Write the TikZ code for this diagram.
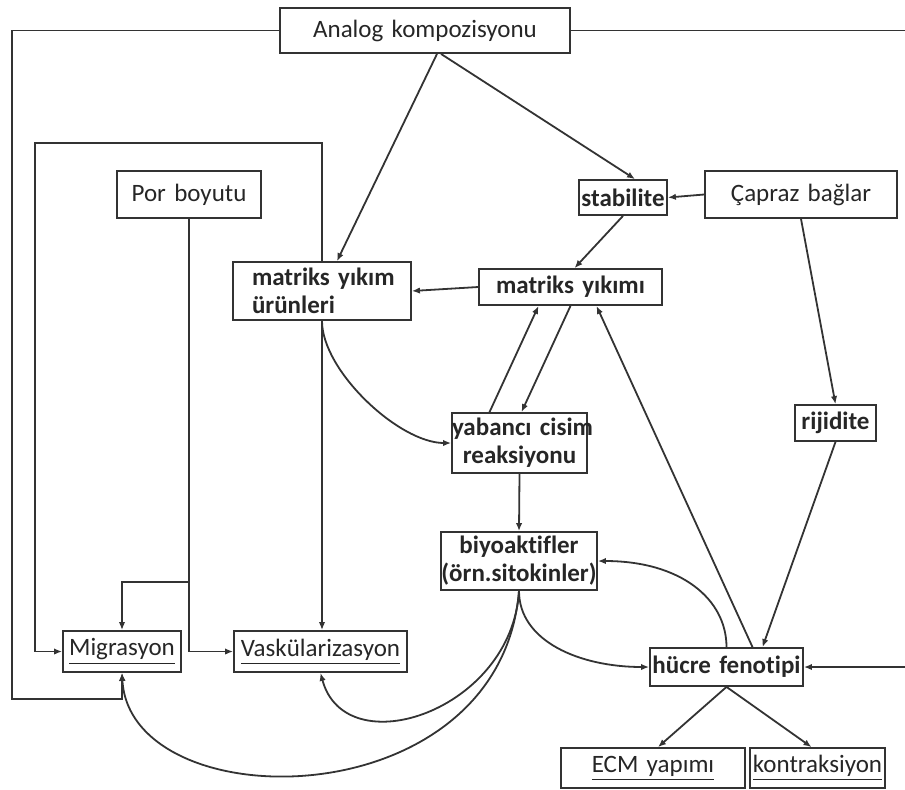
\documentclass[tikz,border=0pt]{standalone}
\usepackage{fontspec}
\setmainfont{Carlito}[Ligatures=CommonOff]
\usetikzlibrary{arrows.meta}
\tikzset{
  box/.style={draw, inner xsep=0pt, inner ysep=0pt, align=center, font=\fontsize{12.5}{14}\selectfont},
  boldbox/.style={box, font=\fontsize{12.5}{14}\selectfont\bfseries},
  link/.style={-{Latex[length=4pt,width=3.2pt]}},
}
\begin{document}
\begin{tikzpicture}[x=0.5pt, y=-0.5pt, line width=0.9pt, draw=black!80, text=black!85]
    \useasboundingbox (0,0) rectangle (905,789);

    \node[box, text width=145pt, minimum height=22.5pt] (ana) at (425,30.5) {\mbox{Analog kompozisyonu}};
    \node[box, text width=72pt, minimum height=23.5pt] (por) at (189,194.5) {\mbox{Por boyutu}};
    \node[boldbox, align=left, text width=70pt, inner xsep=9.5pt, minimum height=29pt] (myu) at (322,291) {\mbox{matriks yıkım}\\\mbox{ürünleri}};
    \node[boldbox, text width=44pt, minimum height=17.5pt] (stab) at (623,197.5) {\mbox{stabilite}};
    \node[box, text width=96pt, minimum height=23.5pt] (cap) at (801,194.5) {\mbox{Çapraz bağlar}};
    \node[boldbox, text width=91.5pt, minimum height=18pt] (my) at (570.5,287) {\mbox{matriks yıkımı}};
    \node[boldbox, text width=67.5pt, minimum height=30pt] (ycr) at (519.5,443) {\mbox{yabancı cisim}\\\mbox{reaksiyonu}};
    \node[boldbox, text width=40.5pt, minimum height=18pt] (rij) at (835.5,423) {\mbox{rijidite}};
    \node[boldbox, text width=78pt, minimum height=29pt] (bio) at (519,561) {\mbox{biyoaktifler}\\\mbox{(örn.sitokinler)}};
    \node[boldbox, text width=76.5pt, minimum height=19pt] (hf) at (726.5,667) {\mbox{hücre fenotipi}};
    \node[box, text width=59pt, minimum height=20.5pt] (mig) at (122,651.5) {\underline{Migrasyon}};
    \node[box, text width=86.5pt, minimum height=20.5pt] (vas) at (320.5,651.5) {\underline{Vaskülarizasyon}};
    \node[box, text width=92pt, minimum height=20pt] (ecm) at (653,768) {\underline{ECM yapımı}};
    \node[box, text width=67.5pt, minimum height=20pt] (kon) at (817.5,768) {\underline{kontraksiyon}};

    % frames round the picture
    \coordinate (leftcorner) at (12,699);
    \coordinate (rightcorner) at (915,667);
    \coordinate (innercorner) at (35,143);
    \coordinate (porjoint) at (189,582);
    \draw[link] (ana.west) -| (leftcorner) -| (mig.south);
    \draw[link] (ana.east) -| (rightcorner) -- (hf.east);
    \draw[link] (myu.north) |- (innercorner) |- (mig.west);
    \draw (por.south) -- (porjoint);
    \draw[link] (porjoint) -| (mig.north);
    \draw[link] (porjoint) |- (vas.west);
    \draw[link] (myu.south) -- (myu.south |- vas.north);

    \draw[link] ([xshift=6pt]ana.south) -- ([xshift=7.5pt]myu.north);
    \draw[link] ([xshift=8pt]ana.south) -- ([xshift=6pt]stab.north);
    \draw[link] (cap.west) -- (stab.east);
    \draw[link] (stab.south) -- ([xshift=2pt]my.north);
    \draw[link] (my.west) -- (myu.east);
    \draw[link] ([xshift=-15pt]ycr.north) -- ([xshift=-16pt]my.south);
    \draw[link] (my.south) -- ([xshift=1pt]ycr.north);
    \draw[link] ([xshift=13pt]hf.north) -- ([xshift=13pt]my.south);
    \draw[link] (cap.south) -- (rij.north);
    \draw[link] (rij.south) -- ([xshift=18pt]hf.north);
    \draw[link] (ycr.south) -- (bio.north);
    \draw[link] (hf.south) -- ([xshift=2.5pt]ecm.north);
    \draw[link] (hf.south) -- ([xshift=-3pt]kon.north);

    % curved links
    \draw[link] (myu.south) .. controls +(0,50) and +(-52,0) .. (ycr.west);
    \draw[link] (hf.north) .. controls +(0,-48) and +(83,0) .. (bio.east);
    \draw[link] (bio.south) .. controls +(0,50) and +(-70,0) .. (hf.west);
    \draw[link] (bio.south) .. controls +(-7,120) and +(25,93) .. (vas.south);
    \draw[link] (bio.south) .. controls +(-19,230) and +(8,148) .. (mig.south);
\end{tikzpicture}
\end{document}
